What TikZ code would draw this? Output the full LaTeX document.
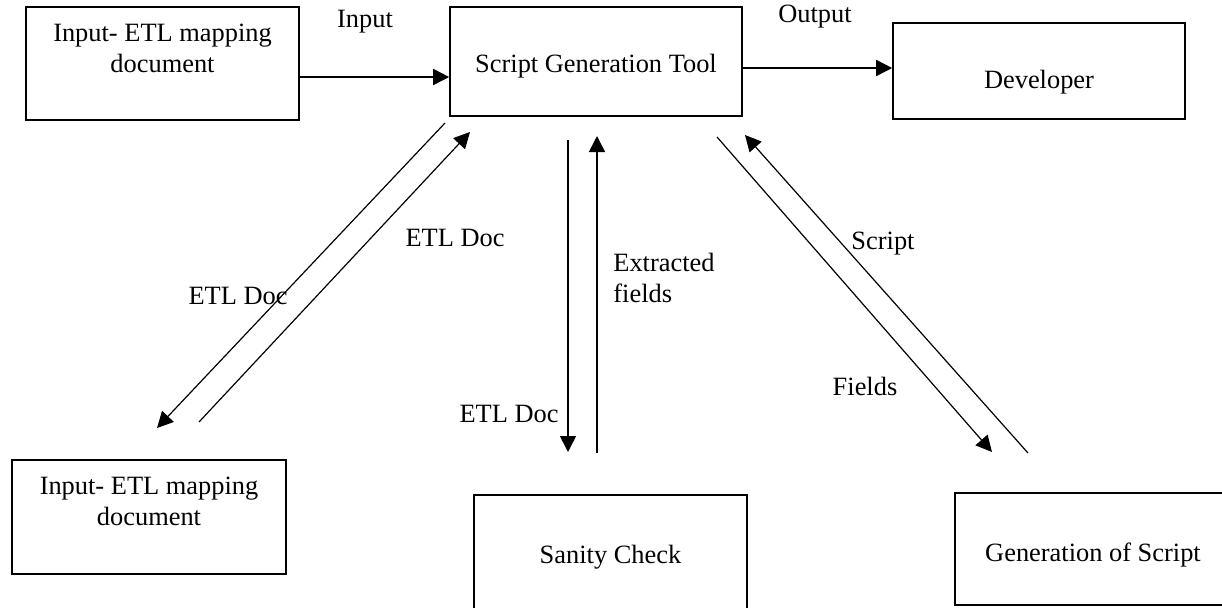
\documentclass[tikz,border=0pt]{standalone}
\usepackage{fontspec}
\setmainfont{Liberation Serif}
\usepackage{xcolor}
\usetikzlibrary{calc,arrows.meta}

\begin{document}
\begin{tikzpicture}[
        x=0.5pt, y=-0.5pt,
        every node/.style = {font=\fontsize{13.2}{15.5}\selectfont},
        box/.style = {draw, rectangle, line width=0.8pt, inner sep=0pt, align=center},
        arrow/.style = {-{Triangle[length=8pt,width=8pt]}, line width=0.6pt},
        lbl/.style = {inner sep=0pt}
    ]
    \useasboundingbox (0,0) rectangle (1222,607);

    % Boxes of the top row
    \node[box, minimum width=136.5pt, minimum height=56.5pt] (mapA) at (162.5,63.5) {Input- ETL mapping\\ document\\ \mbox{}};
    \node[box, minimum width=146pt, minimum height=54.5pt, text height=14pt, text depth=2.9pt] (tool) at (596,61.5) {Script Generation Tool};
    \node[box, minimum width=146pt, minimum height=48pt, text height=20pt, text depth=2.9pt] (dev) at (1039,71) {Developer};

    % Boxes of the bottom row
    \node[box, minimum width=137pt, minimum height=57pt] (mapB) at (149,517) {Input- ETL mapping\\ document\\ \mbox{}};
    \node[box, minimum width=136.5pt, minimum height=60pt, text height=11pt, text depth=2.9pt] (sanity) at (610.5,555) {Sanity Check};
    \node[box, minimum width=138pt, minimum height=56pt, text height=15pt, text depth=2.9pt] (gen) at (1093,549) {Generation of Script};

    % Ends of the arrows
    \coordinate (inA) at (299,77);
    \coordinate (outA) at (742,68);
    \coordinate (docS) at (445,123);
    \coordinate (docE) at (157,428);
    \coordinate (backS) at (199,422);
    \coordinate (backE) at (470,132);
    \coordinate (chkS) at (568,140);
    \coordinate (chkE) at (568,452);
    \coordinate (fldS) at (597,453);
    \coordinate (fldE) at (597,136);
    \coordinate (genS) at (717,137);
    \coordinate (genE) at (992,452);
    \coordinate (scrS) at (1028,453);
    \coordinate (scrE) at (745,135);

    % Arrows
    \draw[arrow, line width=0.8pt] (inA -| mapA.east) -- (inA -| tool.west);
    \draw[arrow, line width=0.8pt] (outA -| tool.east) -- (outA -| dev.west);
    \draw[arrow] (docS) -- (docE);
    \draw[arrow] (backS) -- (backE);
    \draw[arrow, line width=0.8pt] (chkS) -- (chkE);
    \draw[arrow, line width=0.8pt] (fldS) -- (fldE);
    \draw[arrow] (genS) -- (genE);
    \draw[arrow] (scrS) -- (scrE);

    % Labels on the arrows
    \node[lbl] (lInput) at (365,22) {Input};
    \node[lbl] (lOutput) at (815,17) {Output};
    \node[lbl] (lDocA) at (455,238) {ETL Doc};
    \node[lbl] (lDocB) at (238,296) {ETL Doc};
    \node[lbl, anchor=west, align=left] (lFields) at (613,278) {Extracted\\ fields};
    \node[lbl] (lDocC) at (509,414) {ETL Doc};
    \node[lbl] (lScript) at (883,244) {Script};
    \node[lbl] (lFld) at (865,386) {Fields};

\end{tikzpicture}
\end{document}
